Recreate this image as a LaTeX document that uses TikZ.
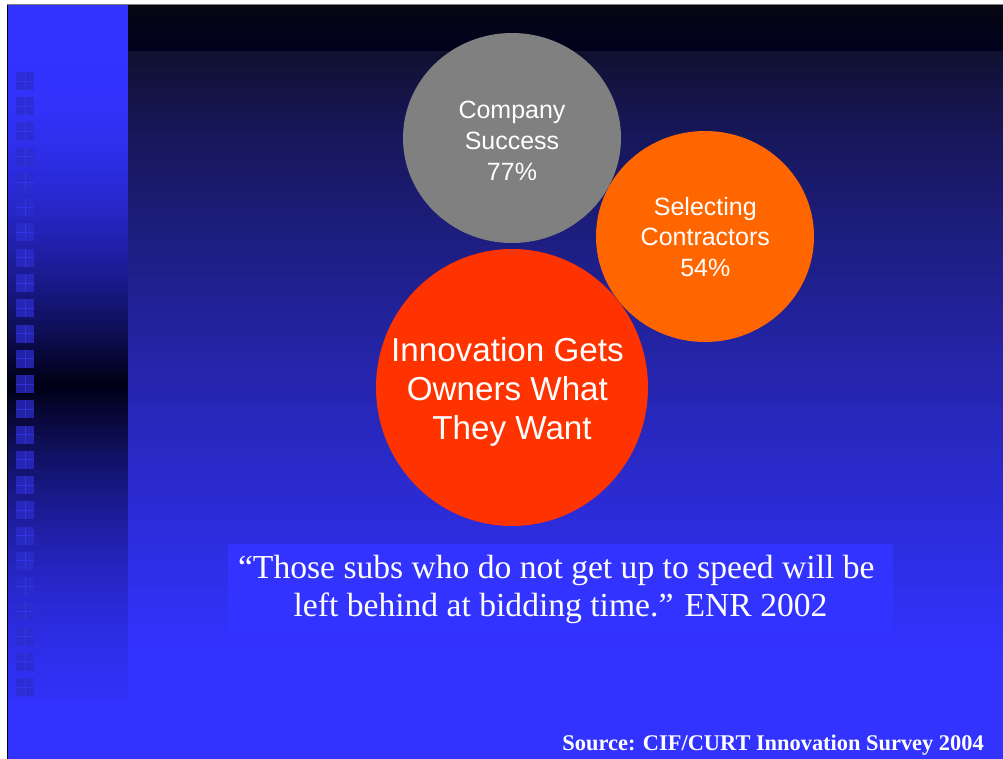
\documentclass[tikz,border=0pt]{standalone}
\usepackage{fontspec}
\setmainfont{Liberation Serif}
\newfontfamily\arialf{Liberation Sans}
\usetikzlibrary{shapes.geometric}
\definecolor{slideblue}{RGB}{51,51,255}
\definecolor{grayc}{RGB}{128,128,128}
\definecolor{orangec}{RGB}{255,102,0}
\definecolor{redc}{RGB}{255,51,0}
\definecolor{sqfill}{RGB}{44,44,204}
\definecolor{sqline}{RGB}{62,62,255}
\definecolor{topdark}{RGB}{7,7,18}
\definecolor{topdarkb}{RGB}{0,0,30}
\tikzset{
  bubble/.style={ellipse, inner sep=0pt, draw=none},
  bubbletext/.style={text=white, align=center, inner sep=0pt},
  smalltext/.style={bubbletext, font=\arialf\fontsize{25}{30.6}\selectfont},
  bigtext/.style={bubbletext, font=\arialf\fontsize{33.2}{39}\selectfont},
  squarebox/.style={sqfill, opacity=0.75},
  squarecross/.style={sqline, line width=0.7pt, opacity=0.55},
}
\begin{document}
\begin{tikzpicture}[x=1pt,y=-1pt]
\useasboundingbox (0,0) rectangle (1003,759);
\fill[white] (0,0) rectangle (1003,759);
% main background
\shade[top color=topdark, bottom color=topdarkb] (128,5) rectangle (1003,51);
\foreach \yy in {51,56,...,756}{
  \pgfmathsetmacro{\tfac}{pow(max(0.001,min(1,(\yy+2.5-51)/600)),0.8)}
  \pgfmathtruncatemacro{\rr}{16+35*\tfac}
  \pgfmathtruncatemacro{\bb}{46+209*\tfac}
  \definecolor{bandc}{RGB}{\rr,\rr,\bb}
  \fill[bandc] (8,\yy) rectangle (1003,\yy+5.6);
}
% left strip
\foreach \yy in {5,10,...,695}{
  \pgfmathsetmacro{\dist}{\yy+2.5-385}
  \pgfmathsetmacro{\dfac}{\dist<0 ? pow(max(0,1+\dist/320),1.8) : pow(max(0,1-\dist/380),2)}
  \pgfmathtruncatemacro{\rr}{51*(1-\dfac)}
  \pgfmathtruncatemacro{\bb}{255-235*\dfac}
  \definecolor{bandc}{RGB}{\rr,\rr,\bb}
  \fill[bandc] (8,\yy) rectangle (128,{min(700,\yy+5.6)});
}
\foreach \i in {0,...,24}{
  \pgfmathsetmacro{\sy}{72+25.25*\i}
  \fill[squarebox] (16,\sy) rectangle (34,\sy+18);
  \draw[squarecross] (25,\sy) -- (25,\sy+18) (16,\sy+9) -- (34,\sy+9);
}
% frame lines
\draw[black, line width=1.2pt] (7.6,4) -- (7.6,759);
\draw[gray, line width=1pt] (7,4.5) -- (1003,4.5);
% bubbles
\node[bubble, fill=grayc, minimum width=218pt, minimum height=210pt] (gray) at (512,138) {};
\node[bubble, fill=orangec, minimum width=218pt, minimum height=211pt] (orange) at (705,236.5) {};
\node[bubble, fill=redc, minimum width=272pt, minimum height=277pt] (red) at (512,387.5) {};
\node[smalltext] (graytext) at (512,140.8) {Company\\Success\\77\%};
\node[smalltext] (orangetext) at (705.3,236.8) {Selecting\\Contractors\\54\%};
\node[bigtext] (redtext) at (512,391.5) {Innovation Gets\ \mbox{}\\Owners What\ \mbox{}\\They Want};
% quote
\node[fill=slideblue, minimum width=665pt, minimum height=92pt, inner sep=0pt, text=white, align=center,
      font=\fontsize{33.6}{38}\selectfont] (quote) at (560.5,589.5)
  {“Those subs who do not get up to speed will be\ \mbox{}\\left behind at bidding time.” ENR 2002};
\node[anchor=base east, inner sep=0pt, text=white, font=\bfseries\fontsize{22.4}{26}\selectfont] (source) at (984,750.7)
  {Source: CIF/CURT Innovation Survey 2004};
\end{tikzpicture}
\end{document}
